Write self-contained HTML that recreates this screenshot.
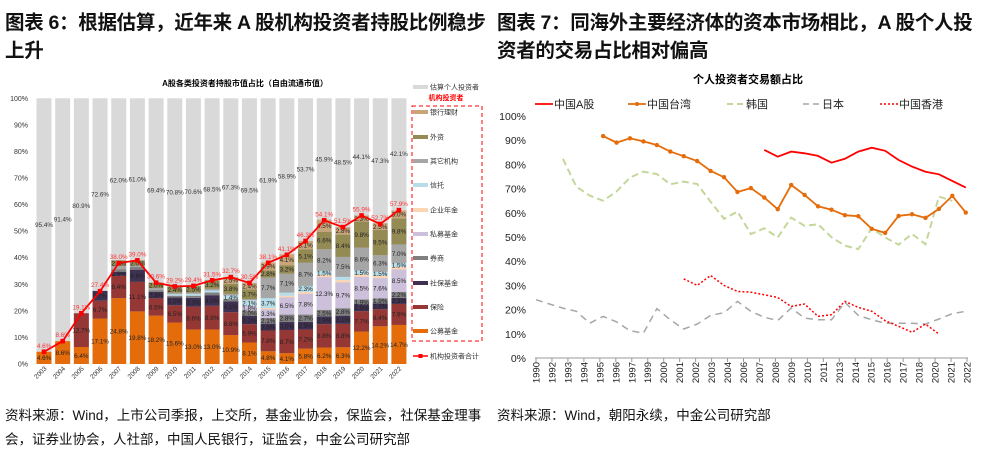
<!DOCTYPE html>
<html><head><meta charset="utf-8"><style>
body{margin:0;width:983px;height:456px;background:#fff;overflow:hidden;font-family:"Liberation Sans","Noto Sans CJK SC",sans-serif}
.h{position:absolute;font-weight:bold;font-size:19.5px;color:#111;white-space:nowrap;letter-spacing:-0.3px}
.f{position:absolute;font-size:13.5px;color:#111;white-space:nowrap}
svg{position:absolute;left:0;top:0}
svg text{font-family:"Liberation Sans","Noto Sans CJK SC",sans-serif}
</style></head><body>
<div class="h" style="left:5px;top:6px">图表 6：根据估算，近年来 A 股机构投资者持股比例稳步</div>
<div class="h" style="left:5px;top:34px">上升</div>
<div class="h" style="left:497px;top:6px">图表 7：同海外主要经济体的资本市场相比，A 股个人投</div>
<div class="h" style="left:497px;top:34px">资者的交易占比相对偏高</div>
<div class="f" style="left:5px;top:404px">资料来源：Wind，上市公司季报，上交所，基金业协会，保监会，社保基金理事</div>
<div class="f" style="left:5px;top:428px">会，证券业协会，人社部，中国人民银行，证监会，中金公司研究部</div>
<div class="f" style="left:497px;top:404px">资料来源：Wind，朝阳永续，中金公司研究部</div>
<svg id="s" width="983" height="456"></svg>
<script>
// ---------- Left chart data ----------
const years = ["2003","2004","2005","2006","2007","2008","2009","2010","2011","2012","2013","2014","2015","2016","2017","2018","2019","2020","2021","2022"];
const pubFund  = [4.6,8.6,6.4,17.1,24.8,19.8,18.2,15.6,13.0,13.0,10.9,8.1,4.8,4.1,5.8,6.2,6.3,12.2,14.2,14.7];
const insur    = [0,0,12.7,6.7,8.4,11.1,6.5,6.5,8.6,8.9,8.6,6.9,7.8,8.7,7.2,8.8,8.8,7.7,6.4,7.9];
const socSec   = [0,0,0,3.7,1.5,4.6,2.4,3.0,3.3,4.0,4.1,3.1,2.6,3.0,2.9,2.9,3.1,2.5,2.2,2.3];
const broker   = [0,0,0,0,1.0,1.0,0.7,0.6,0.8,1.0,0.8,2.0,2.1,2.8,2.7,2.5,2.8,1.9,1.9,2.2];
const privFund = [0,0,0,0,0,0,0,0,0,0,0,1.8,3.3,6.5,7.8,12.3,9.7,8.5,7.6,8.5];
const pension  = [0,0,0,0,0,0,0,0,0,0,0,0,0.5,0.6,0.7,0.8,0.9,0.9,0.9,0.9];
const trust    = [0,0,0,0,0,0,0,0.6,0.7,0.8,1.4,2.1,3.7,1.2,2.3,1.5,1.2,1.5,1.5,1.5];
const otherInst= [0,0,0,0,1.2,0.5,0.8,0.5,0.5,0.6,0.6,0.4,7.7,7.1,8.7,8.2,7.5,8.6,6.3,7.0];
const foreign  = [0,0,0,0,2.1,2.0,2.0,2.4,2.5,3.2,3.8,3.7,2.8,3.2,5.1,6.6,8.4,9.8,9.5,9.8];
const bankWM   = [0,0,0,0,0,0,0,0,0,0,2.5,2.4,2.9,4.1,3.1,4.5,2.8,2.3,2.5,3.0];
const instTotal= [4.6,8.6,19.1,27.4,38.0,39.0,30.6,29.2,29.4,31.5,32.7,30.5,38.1,41.1,46.3,54.1,51.5,55.9,52.7,57.9];
const indivLbl = [95.4,91.4,80.9,72.6,62.0,61.0,69.4,70.8,70.6,68.5,67.3,69.5,61.9,58.9,53.7,45.9,48.5,44.1,47.3,42.1];
const yTicksL  = [0,10,20,30,40,50,60,70,80,90,100];
// ---------- Right chart data ----------
const xLabelsR = ["1990","1992","1993","1994","1995","1996","1997","1999","2000","2001","2002","2003","2004","2006","2007","2008","2009","2010","2011","2013","2014","2015","2016","2017","2018","2020","2021","2022"];
const aShare = [86,83.2,85.3,84.6,83.5,80.7,82.3,85.3,86.9,85.6,81.8,79.1,77,75.9,73.2,70.4];
const taiwan = [91.7,89,90.8,89.5,88,85.3,83.4,81.4,77.3,74.7,68.6,70.2,66.3,61.5,71.5,67.4,62.7,61.3,59,58.6,53.4,51.7,58.7,59.4,57.9,61.6,67,60.1];
const korea  = [82.3,70.8,67.1,65,68.8,74.6,77,76,71.8,72.9,71.9,64.6,57.5,60.5,51.2,53.6,49.8,58,54.6,55.3,49.9,46.4,45,53.6,49.8,46.8,51.3,47,66.7,64.9];
const japan  = [24.1,22.3,20.6,19.3,14.4,17.2,14.9,11.3,10.3,20.4,15.8,12,14,17.6,18.7,23.4,19.3,16.8,15.5,20.6,16.5,15.8,15.8,23,17.6,15.8,14.4,14.4,14.4,14,16.1,18.3,19.3];
const hk     = [32.7,30,34.1,30,27.5,27.2,26.1,25,21.3,22.3,17.2,17.9,23.4,20.9,19.3,15.4,13.1,10.6,14,9.9];
const startYear = {aShare:2007,taiwan:1995,korea:1992,japan:1990,hk:2001};
const yTicksR = [0,10,20,30,40,50,60,70,80,90,100];

const NS="http://www.w3.org/2000/svg", svg=document.getElementById('s');
function el(t,a,p){const e=document.createElementNS(NS,t);for(const k in a)e.setAttribute(k,a[k]);(p||svg).appendChild(e);return e;}
function tx(x,y,s,a,p){const e=el('text',Object.assign({x:x,y:y},a),p);e.textContent=s;return e;}

// ===== Left chart =====
const L=el('g',{});


const y0=364,y1=98.3; const yL=v=>y0-(y0-y1)*v/100;
const xL=i=>44+i*18.68; const bw=15;
tx(245,86,'A股各类投资者持股市值占比（自由流通市值）',{'font-size':8,'font-weight':'bold','text-anchor':'middle',fill:'#000'},L);
yTicksL.forEach(v=>{const t=tx(28,yL(v)+2.5,v+'%',{'font-size':7,'text-anchor':'end',fill:'#333'},L);
});
const series=[[pubFund,'#e46c0a','公募基金'],[insur,'#953735','保险'],[socSec,'#3f3151','社保基金'],[broker,'#7f7f7f','券商'],[privFund,'#ccc0da','私募基金'],[pension,'#fcd5b5','企业年金'],[trust,'#b7dde8','信托'],[otherInst,'#a6a6a6','其它机构'],[foreign,'#948a54','外资'],[bankWM,'#c9a67a','银行理财']];
years.forEach((yr,i)=>{
  const g=el('rect',{x:xL(i)-bw/2,y:yL(100),width:bw,height:yL(0)-yL(100),fill:'#d9d9d9'},L);
  
  let acc=0;
  series.forEach(([arr,c,n])=>{const v=arr[i];if(v<=0)return;
    const r=el('rect',{x:xL(i)-bw/2,y:yL(acc+v),width:bw,height:yL(acc)-yL(acc+v),fill:c},L);
    
    if(v>=1.4){tx(xL(i),yL(acc+v/2)+2.3,v.toFixed(1)+'%',{'font-size':6.3,'text-anchor':'middle',fill:'#222'},L);}
    acc+=v;});
  tx(xL(i),yL(instTotal[i]+(100-instTotal[i])/2)+2,indivLbl[i].toFixed(1)+'%',{'font-size':6.3,'text-anchor':'middle',fill:'#333'},L);
  const xl=tx(xL(i)+3,369,yr,{'font-size':6.5,'text-anchor':'end',fill:'#333',transform:`rotate(-45 ${xL(i)+3} 369)`},L);
  
});
let d='';instTotal.forEach((v,i)=>{d+=(i?'L':'M')+xL(i)+' '+yL(v);});
const tl=el('path',{d:d,fill:'none',stroke:'#ff0000','stroke-width':1.8},L);

instTotal.forEach((v,i)=>{el('rect',{x:xL(i)-2.3,y:yL(v)-2.3,width:4.6,height:4.6,fill:'#ff0000'},L);
  tx(xL(i),yL(v)-4,v.toFixed(1)+'%',{'font-size':6.3,'text-anchor':'middle',fill:'#ff3333'},L);});
// left legend
const LG=el('g',{},L);

el('rect',{x:413,y:85,width:15,height:4,fill:'#d9d9d9'},LG);tx(430,89.5,'估算个人投资者',{'font-size':7,fill:'#333'},LG);
tx(446,100,'机构投资者',{'font-size':7,'font-weight':'bold',fill:'#ff0000','text-anchor':'middle'},LG);
el('rect',{x:412,y:106,width:70,height:235,fill:'none',stroke:'#ff0000','stroke-width':1,'stroke-dasharray':'4,3'},LG);
const legY=[112,137,161,185,210,234,258,283,307,331];
series.slice().reverse().forEach(([a,c,n],k)=>{const it=el('g',{},LG);
  
  el('rect',{x:413,y:legY[k]-2,width:15,height:4,fill:c},it);tx(430,legY[k]+2.5,n,{'font-size':7,fill:'#333'},it);});
el('line',{x1:413,x2:428,y1:356,y2:356,stroke:'#ff0000','stroke-width':1.5},LG);
el('rect',{x:418.5,y:354,width:4,height:4,fill:'#ff0000'},LG);
tx(430,358.5,'机构投资者合计',{'font-size':7,fill:'#333'},LG);

// ===== Right chart =====
const R=el('g',{});


const r0=358,r1=116; const yR=v=>r0-(r0-r1)*v/100;
const xR=yr=>536+(yr-1990)*13.43;
tx(748,83,'个人投资者交易额占比',{'font-size':11,'font-weight':'bold','text-anchor':'middle',fill:'#000'},R);
yTicksR.forEach(v=>{const t=tx(526,yR(v)+4,v+'%',{'font-size':10.5,'text-anchor':'end',fill:'#222'},R);
  });
el('line',{x1:535,x2:968,y1:r0,y2:r0,stroke:'#999','stroke-width':1},R);
xLabelsR.forEach((lb,i)=>{const x=536+i*(967-536)/27;
  el('line',{x1:x,x2:x,y1:r0,y2:r0+4,stroke:'#999'},R);
  const t=tx(x+3.5,362,lb,{'font-size':9.5,'text-anchor':'end',fill:'#222',transform:`rotate(-90 ${x+3.5} 362)`},R);
  });
function line(arr,sy,st,name,markers){let d='';
  arr.forEach((v,i)=>{let yr=sy+i; d+=(i?'L':'M')+xR(yr).toFixed(1)+' '+yR(v).toFixed(1);});
  const p=el('path',Object.assign({d:d,fill:'none'},st),R);
  
  if(markers)arr.forEach((v,i)=>{el('circle',{cx:xR(sy+i),cy:yR(v),r:2.2,fill:'#e46c0a'},R);});}
line(japan,startYear.japan,{stroke:'#a6a6a6','stroke-width':1.5,'stroke-dasharray':'7,5'},'japan-line');
line(korea,startYear.korea,{stroke:'#c4d79b','stroke-width':2,'stroke-dasharray':'7,4'},'korea-line');
line(hk,startYear.hk,{stroke:'#ff0000','stroke-width':1.5,'stroke-dasharray':'2,2'},'hongkong-line');
line(taiwan,startYear.taiwan,{stroke:'#e46c0a','stroke-width':1.8},'taiwan-line',true);
line(aShare,startYear.aShare,{stroke:'#ff0000','stroke-width':1.8},'china-a-share-line');
const RG=el('g',{},R);

const leg=[[535,'中国A股',{stroke:'#ff0000','stroke-width':1.8}],[628,'中国台湾',{stroke:'#e46c0a','stroke-width':1.8}],[727,'韩国',{stroke:'#c4d79b','stroke-width':2,'stroke-dasharray':'6,4'}],[803,'日本',{stroke:'#a6a6a6','stroke-width':1.5,'stroke-dasharray':'6,4'}],[880,'中国香港',{stroke:'#ff0000','stroke-width':1.5,'stroke-dasharray':'2,2'}]];
leg.forEach(([x,n,st])=>{const it=el('g',{},RG);
  
  el('line',Object.assign({x1:x,x2:x+18,y1:104,y2:104},st),it);
  if(n==='中国台湾')el('circle',{cx:x+9,cy:104,r:2,fill:'#e46c0a'},it);
  tx(x+19,108,n,{'font-size':11,fill:'#222'},it);});
</script>
</body></html>
